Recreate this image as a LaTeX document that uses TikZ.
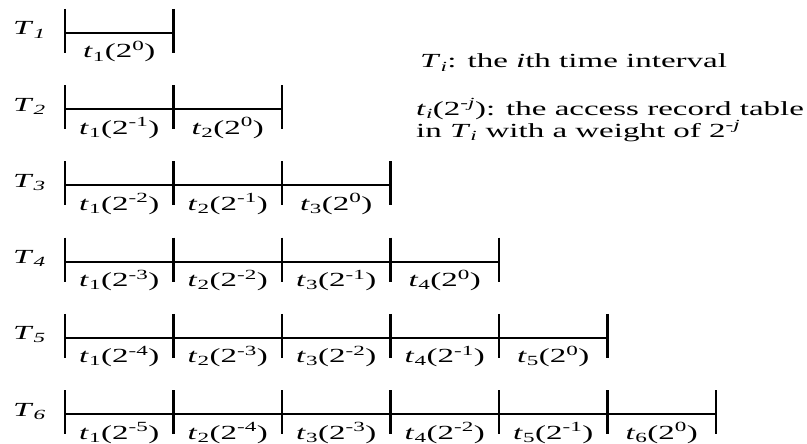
\documentclass[tikz,border=0pt]{standalone}
\usepackage{fontspec}
\setmainfont{Liberation Serif}[FakeStretch=1.65]
\usetikzlibrary{calc}
\newcommand{\tlab}[2]{\textit{t}\textsubscript{#1}(2\textsuperscript{#2})}
\newcommand{\Tlab}[1]{\textit{T}\textsubscript{\textit{#1}}}
\begin{document}
\begin{tikzpicture}[x=1pt,y=-1pt,
  tickline/.style={line width=2.6pt},
  seg/.style={line width=2pt},
  ilab/.style={anchor=base, inner sep=0pt, font=\fontsize{20}{24}\selectfont},
  rlab/.style={anchor=base west, inner sep=0pt, font=\fontsize{20}{24}\selectfont},
  legend/.style={anchor=base west, inner sep=0pt, align=left, font=\fontsize{20}{20.5}\selectfont}]
\useasboundingbox (0,0) rectangle (807,444);
\foreach \r in {1,...,6}{
  \pgfmathsetmacro{\yy}{33+76.2*(\r-1)}
  \node[rlab] (T\r) at (13,\yy+2) {\Tlab{\r}};
  \foreach \k in {0,...,\r}{
    \coordinate (p\r-\k) at (65+108.5*\k,\yy);
    \draw[tickline] (p\r-\k) ++(0,-24) -- ++(0,44);
  }
  \draw[seg] (p\r-0) -- (p\r-\r);
  \foreach \k in {1,...,\r}{
    \pgfmathtruncatemacro{\e}{\r-\k}
    \node[ilab] (l\r-\k) at (65+108.5*\k-54.25,\yy+25) {\tlab{\k}{\ifnum\e=0 0\else -\e\fi}};
  }
}
\node[legend] (L1) at (420,68) {\textit{T}\textsubscript{\textit{i}}: the \textit{i}th time interval};
\node[legend] (L2) at (416,137.5) {\textit{t}\textsubscript{\textit{i}}(2\textsuperscript{-\textit{j}}): the access record table\\in \textit{T}\textsubscript{\textit{i}} with a weight of 2\textsuperscript{-\textit{j}}};
\end{tikzpicture}
\end{document}
